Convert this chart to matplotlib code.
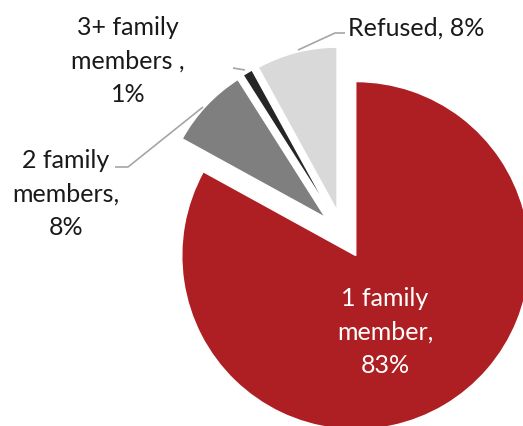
import matplotlib.pyplot as plt

categories = ['1 family member', '2 family members', '3+ family members', 'Refused']
values = [83, 8, 1, 8]
label_text = ['1 family\nmember,', '2 family\nmembers,', '3+ family\nmembers ,', 'Refused,']
colors = ['#AE1F24', '#7F7F7F', '#262626', '#D9D9D9']

plt.rcParams['font.family'] = ['Lato', 'DejaVu Sans']

W, H = 523, 426
R = 174.0            # pie radius in pixels
CX, CY = 343, 234    # pie centre in pixels (from top left)


def px(x, y):
    # pixel position (top-left origin) -> data coordinates of the unit pie
    return (x - CX) / R, (CY - y) / R


fig = plt.figure(figsize=(W / 100, H / 100), dpi=100)
ax = fig.add_axes([0, 0, 1, 1])
wedges, _ = ax.pie(values, colors=colors, startangle=90, counterclock=False,
                   explode=[0.144, 0.138, 0.138, 0.138], radius=1,
                   wedgeprops=dict(edgecolor='white', linewidth=1.0))
# the pulled-out small slices are drawn a bit smaller than the main one
for w in wedges[1:]:
    w.set_radius(0.94)
ax.set_xlim(-CX / R, (W - CX) / R)
ax.set_ylim(-(H - CY) / R, CY / R)
ax.set_aspect('equal')
ax.axis('off')

# labels: pixel centre and colour
lab_pos = [(385, 332), (66, 194), (128, 61), (416, 28)]
lab_col = ['white', '#1a1a1a', '#1a1a1a', '#1a1a1a']
for i in range(len(values)):
    sep = ' ' if i == 3 else '\n'
    txt = f'{label_text[i]}{sep}{values[i]}%'
    x, y = px(*lab_pos[i])
    ax.text(x, y, txt, ha='center', va='center', fontsize=18,
            color=lab_col[i], linespacing=1.55)

# leader lines
leaders = [
    [(115, 167), (128, 167), (203, 107)],
    [(233, 68), (245, 70)],
    [(298, 50), (335, 33), (345, 33)],
]
for pts in leaders:
    xs, ys = zip(*[px(*p) for p in pts])
    ax.plot(xs, ys, color='#A6A6A6', lw=1.2, solid_capstyle='butt')

fig.savefig('out.png', dpi=100)
